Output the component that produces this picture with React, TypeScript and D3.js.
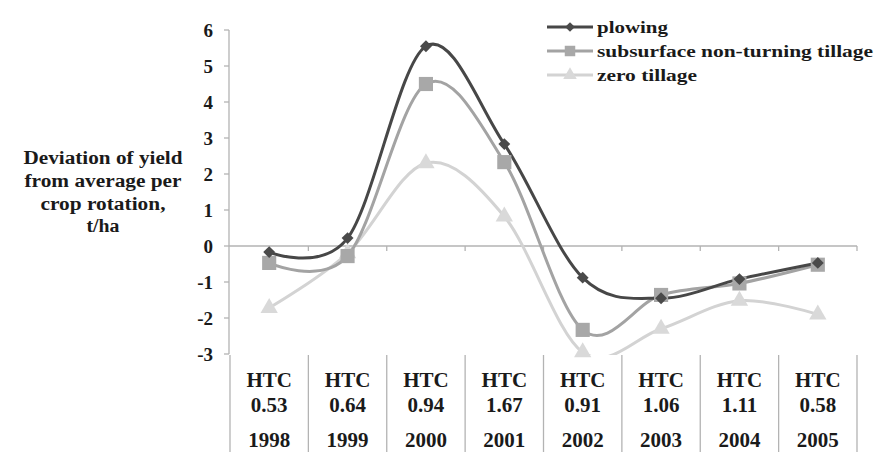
import React from "react";
import * as d3 from "d3";

const years = ["1998", "1999", "2000", "2001", "2002", "2003", "2004", "2005"];
const htc = ["0.53", "0.64", "0.94", "1.67", "0.91", "1.06", "1.11", "0.58"];
const plowing = [-0.17, 0.22, 5.55, 2.83, -0.88, -1.45, -0.92, -0.47];
const subsurface = [-0.47, -0.28, 4.5, 2.33, -2.33, -1.36, -1.04, -0.52];
const zeroTillage = [-1.72, -0.2, 2.3, 0.82, -2.95, -2.3, -1.52, -1.9];
const yTicks = [-3, -2, -1, 0, 1, 2, 3, 4, 5, 6];
const seriesNames = ["plowing", "subsurface non-turning tillage", "zero tillage"];
const yTitle = ["Deviation of yield", "from average per", "crop rotation,", "t/ha"];

const FONT = "Liberation Serif, Times New Roman, Times, serif";

export default function App() {
  const W = 877, H = 455;
  const x0 = 230, x1 = 857;
  const y = d3.scaleLinear().domain([-3, 6]).range([354, 30]);
  const xb = d3.scaleBand<string>().domain(years).range([x0, x1]);
  const cx = (i: number) => (xb(years[i]) as number) + xb.bandwidth() / 2;

  const line = d3
    .line<number>()
    .x((_, i) => cx(i))
    .y((d) => y(d))
    .curve(d3.curveCatmullRom.alpha(0));

  const series = [
    { name: seriesNames[0], data: plowing, color: "#474747", mcolor: "#4a4a4a", marker: "diamond" },
    { name: seriesNames[1], data: subsurface, color: "#a3a3a3", mcolor: "#a8a8a8", marker: "square" },
    { name: seriesNames[2], data: zeroTillage, color: "#d3d3d3", mcolor: "#d9d9d9", marker: "triangle" },
  ];

  const markerPath = (type: string) => {
    if (type === "diamond") return d3.symbol(d3.symbolDiamond2, 90)();
    if (type === "square") return d3.symbol(d3.symbolSquare, 200)();
    return d3.symbol(d3.symbolTriangle, 130)();
  };

  const legendW = [71, 276, 100];
  const titleW = [159, 157, 125, 33];
  const titleBase = [164, 187, 210, 232];

  const boundaries = [...years.map((yv) => xb(yv) as number), x1];
  const txt = { fontFamily: FONT, fontWeight: 700 as const };

  return (
    <svg width={W} height={H} style={{ position: "absolute", left: 0, top: 0, background: "#fff" }}>
      <defs>
        <clipPath id="plotclip">
          <rect x={x0} y={20} width={x1 - x0 + 10} height={335} />
        </clipPath>
      </defs>
      {/* y axis */}
      <line x1={229} x2={229} y1={y(6)} y2={y(-3)} stroke="#b3b3b3" strokeWidth={1.3} />
      {yTicks.map((t) => (
        <g key={t}>
          <line x1={224} x2={229} y1={y(t)} y2={y(t)} stroke="#b3b3b3" strokeWidth={1.3} />
          <text x={213} y={y(t) + 7} textAnchor="end" style={{ ...txt, fontSize: 19 }} fill="#1a1a1a">
            {t < 0 ? "-" + Math.abs(t) : String(t)}
          </text>
        </g>
      ))}
      {/* zero line */}
      <line x1={229} x2={x1} y1={y(0)} y2={y(0)} stroke="#b3b3b3" strokeWidth={1.3} />
      {boundaries.slice(1).map((b, i) => (
        <line key={"zt" + i} x1={b} x2={b} y1={y(0)} y2={y(0) + 5} stroke="#b3b3b3" strokeWidth={1.3} />
      ))}
      {/* category table lines */}
      {boundaries.map((b, i) => (
        <line key={"tb" + i} x1={b} x2={b} y1={355} y2={452} stroke="#b3b3b3" strokeWidth={1.3} />
      ))}
      {years.map((yr, i) => (
        <g key={yr} fill="#1a1a1a" textAnchor="middle" style={{ ...txt, fontSize: 21 }}>
          <text x={cx(i)} y={387}>HTC</text>
          <text x={cx(i)} y={412}>{htc[i]}</text>
          <text x={cx(i)} y={447}>{yr}</text>
        </g>
      ))}
      {/* y title */}
      {yTitle.map((t, i) => (
        <text
          key={t}
          x={103}
          y={titleBase[i]}
          textAnchor="middle"
          style={{ ...txt, fontSize: 18 }}
          fill="#1a1a1a"
          textLength={titleW[i]}
          lengthAdjust="spacingAndGlyphs"
        >
          {t}
        </text>
      ))}
      {/* series lines */}
      <g clipPath="url(#plotclip)">
        {series
          .slice()
          .reverse()
          .map((s) => (
            <path key={s.name} d={line(s.data) as string} fill="none" stroke={s.color} strokeWidth={3} />
          ))}
      </g>
      {series
        .slice()
        .reverse()
        .map((s) => (
          <g key={s.name + "m"}>
            {s.data.map((v, i) => (
              <path
                key={i}
                d={markerPath(s.marker) as string}
                transform={`translate(${cx(i)},${y(v)})`}
                fill={s.mcolor}
              />
            ))}
          </g>
        ))}
      {/* legend */}
      {series.map((s, i) => {
        const ly = 27 + i * 24;
        return (
          <g key={s.name + "l"}>
            <line x1={547} x2={593} y1={ly} y2={ly} stroke={s.color} strokeWidth={3} />
            <path
              d={
                (s.marker === "diamond"
                  ? d3.symbol(d3.symbolDiamond2, 60)()
                  : s.marker === "square"
                  ? d3.symbol(d3.symbolSquare, 110)()
                  : d3.symbol(d3.symbolTriangle, 80)()) as string
              }
              transform={`translate(570,${ly})`}
              fill={s.mcolor}
            />
            <text
              x={597}
              y={ly + 6}
              style={{ ...txt, fontSize: 17 }}
              fill="#1a1a1a"
              textLength={legendW[i]}
              lengthAdjust="spacingAndGlyphs"
            >
              {s.name}
            </text>
          </g>
        );
      })}
    </svg>
  );
}
